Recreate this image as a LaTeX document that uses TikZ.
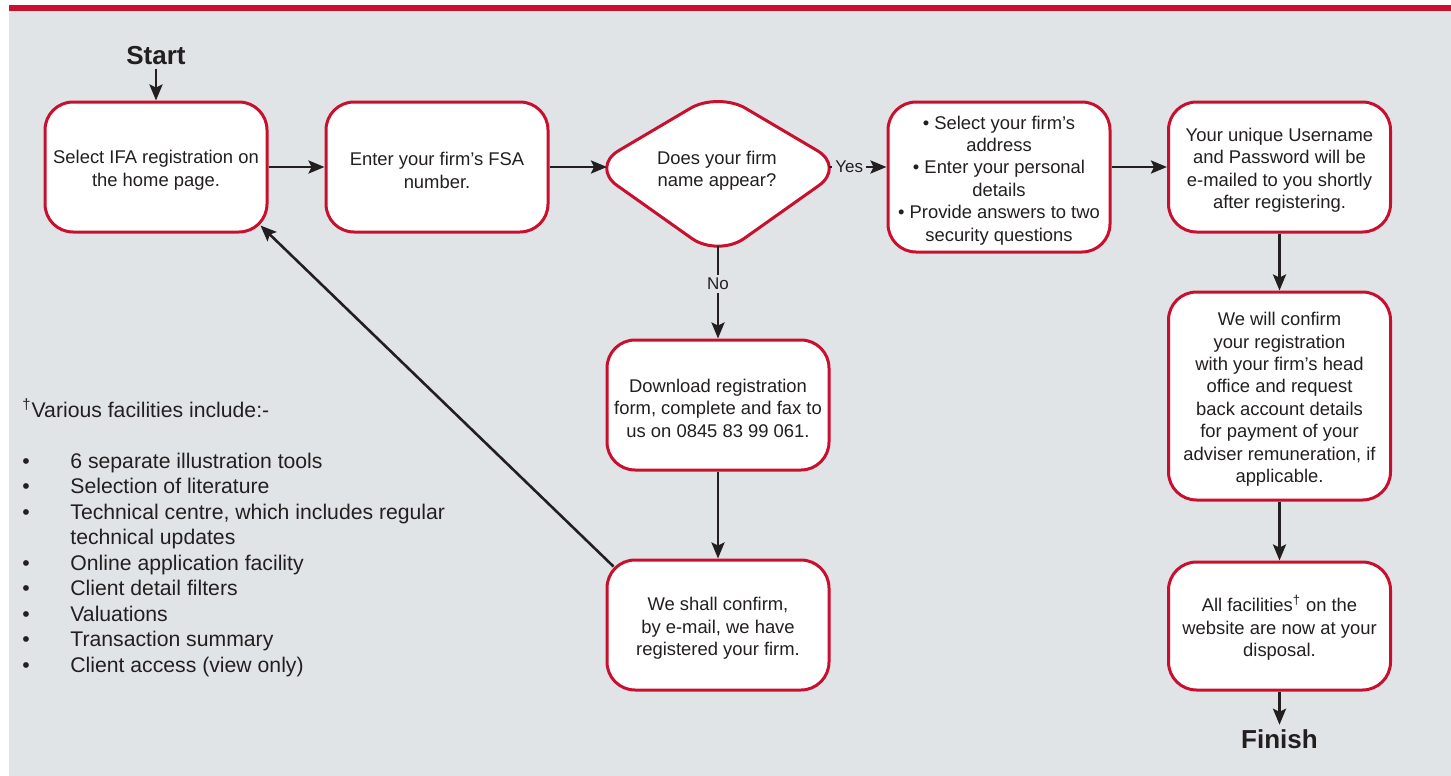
\documentclass[tikz,border=0pt]{standalone}
\usepackage{fontspec}
\setmainfont{Liberation Sans}
\usetikzlibrary{arrows.meta,calc}
\definecolor{bg}{RGB}{225,228,231}
\definecolor{fsred}{RGB}{200,16,46}
\definecolor{txt}{RGB}{35,31,32}
\newcommand\boxfont{\fontsize{9.2}{11.2}\selectfont}
\newcommand\listfont{\fontsize{10.6}{12.75}\selectfont}
\newcommand\topst{\rule{0pt}{10pt}}
\tikzset{
  box/.style={draw=fsred, fill=white, line width=1.5pt, rounded corners=14pt,
    minimum width=111pt, align=center, font=\boxfont, text=txt, inner sep=0pt},
  dia/.style={draw=fsred, fill=white, line width=1.5pt, rounded corners=16pt},
  dtext/.style={align=center, font=\boxfont, text=txt, inner sep=0pt},
  arr/.style={line width=1.3pt, draw=txt, -{Stealth[length=8pt,width=6.5pt,inset=1.5pt]}},
  lbl/.style={fill=bg, inner sep=1.5pt, font=\fontsize{8.5}{10}\selectfont, text=txt},
  term/.style={font=\fontsize{13}{15}\selectfont\bfseries, text=txt, inner sep=2pt, anchor=base}
}
\begin{document}
\begin{tikzpicture}[x=0.5pt,y=-0.5pt]
\useasboundingbox (0,0) rectangle (1451,776);
\fill[bg] (9,10) rectangle (1451,776);
\fill[fsred] (9,5) rectangle (1451,10.7);

% boxes
\node[box, minimum height=65pt] (b1) at (156,167) {\topst Select IFA registration on\\the home page.};
\node[box, minimum height=65pt] (b2) at (437,167) {\topst Enter your firm’s FSA\\number.};
\node[box, minimum height=75pt] (b4) at (999,177) {\topst • Select your firm’s\\address\\• Enter your personal\\details\\• Provide answers to two\\security questions};
\node[box, minimum height=65pt] (b5) at (1279.5,167) {\topst Your unique Username\\and Password will be\\e-mailed to you shortly\\after registering.};
\node[box, minimum height=104pt] (b6) at (1279.5,396) {\topst We will confirm\\your registration\\with your firm’s head\\office and request\\back account details\\for payment of your\\adviser remuneration, if\\applicable.};
\node[box, minimum height=64pt] (b7) at (1279.5,626) {\topst All facilities\textsuperscript{†} on the\\website are now at your\\disposal.};
\node[box, minimum height=65pt] (b8) at (718,405) {\topst Download registration\\form, complete and fax to\\us on 0845 83 99 061.};
\node[box, minimum height=65pt] (b9) at (718,625) {\topst We shall confirm,\\by e-mail, we have\\registered your firm.};

% decision
\draw[dia] (654.5,129.5) -- (718,92) -- (845,167) -- (718,257) -- (591,167) -- cycle;
\node[dtext] (d) at (717,171) {Does your firm\\name appear?};
\coordinate (dW) at (607,167);
\coordinate (dE) at (829,167);
\coordinate (dS) at (718,246);

% terminals
\node[term] (start) at (156,64) {Start};
\node[term] (finish) at (1279.5,748) {Finish};

% connectors
\draw[arr] (start.south) -- (b1.north);
\draw[arr] (b1.east) -- (b2.west);
\draw[arr] (b2.east) -- (dW);
\draw[arr] (dE) -- node[lbl, pos=0.35] (yes) {Yes} (dE -| b4.west);
\draw[arr] (b5.west -| b4.east) -- (b5.west);
\draw[arr] (b5.south) -- (b6.north);
\draw[arr] (b6.south) -- (b7.north);
\draw[arr] (b7.south) -- (finish.north);
\draw[arr] (dS) -- node[lbl, pos=0.41] (no) {No} (b8.north);
\draw[arr] (b8.south) -- (b9.north);
\draw[arr] ($(b9.north west)+(8,8)$) -- ($(b1.south east)+(-8,-8)$);

% facilities list
\node[anchor=north west, inner sep=0pt, font=\listfont, text=txt] (facil) at (22,398) {%
\begin{tabular}{@{}p{24pt}@{}l@{}}
\multicolumn{2}{@{}l@{}}{\textsuperscript{†}Various facilities include:-}\\
\multicolumn{2}{@{}l@{}}{}\\
• & 6 separate illustration tools\\
• & Selection of literature\\
• & Technical centre, which includes regular\\
  & technical updates\\
• & Online application facility\\
• & Client detail filters\\
• & Valuations\\
• & Transaction summary\\
• & Client access (view only)
\end{tabular}};
\end{tikzpicture}
\end{document}
